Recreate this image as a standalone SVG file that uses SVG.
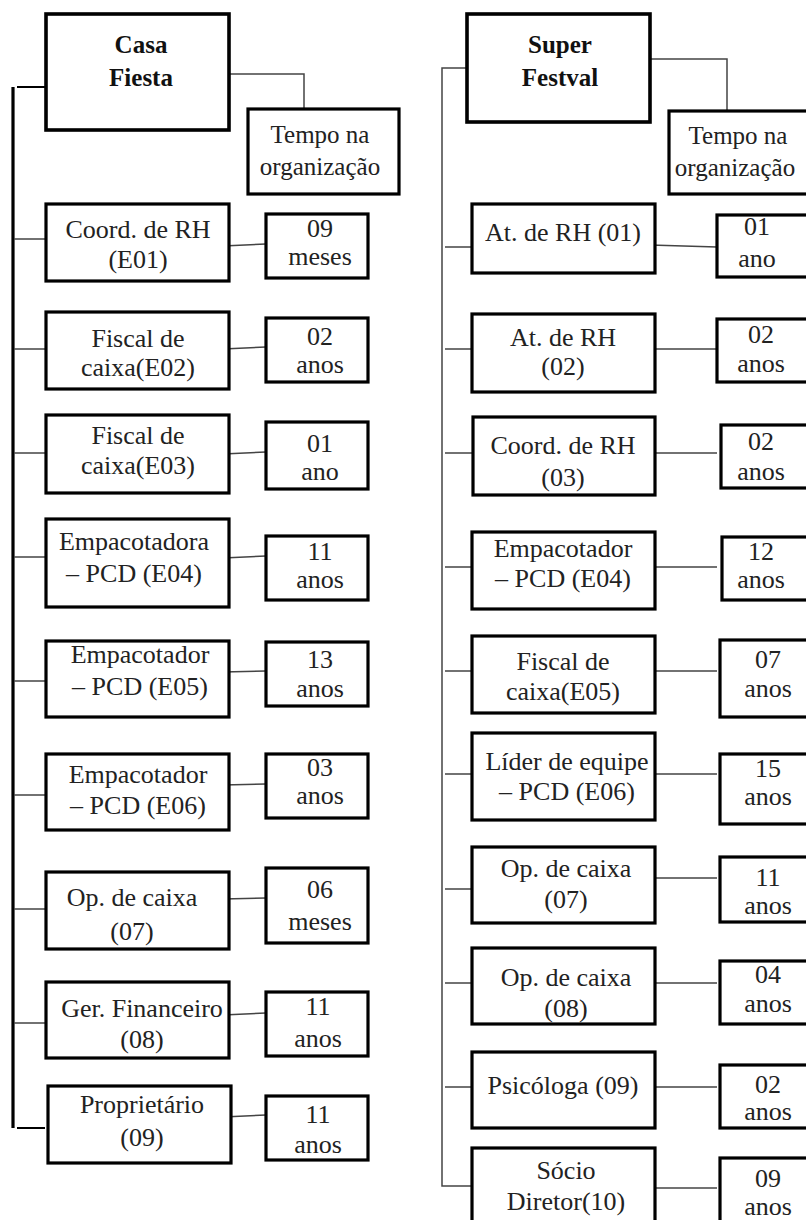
<svg xmlns="http://www.w3.org/2000/svg" width="806" height="1220" viewBox="0 0 806 1220">
<style>
.box{fill:#fff;stroke:#000;stroke-width:3.2}
.t{font-family:"Liberation Serif","Times New Roman",serif;font-size:26px;fill:#222;text-anchor:middle}
.h{font-weight:bold;font-size:25px;fill:#111}
.s{font-size:25px}
.c{stroke:#444;stroke-width:1.5;fill:none}
.bus{stroke:#000;stroke-width:3.2;fill:none}
</style>
<rect width="806" height="1220" fill="#fff"/>
<g id="connectors">
  <!-- left -->
  <path class="bus" d="M13,87 V1128"/>
  <path class="c" d="M17,87 H45" style="stroke:#000;stroke-width:2"/>
  <path class="c" d="M17,1128 H45" style="stroke:#000;stroke-width:2"/>
  <path class="c" d="M229,74 H304 V109"/>
  <path class="c" d="M14,239 H45 M223,246 L266,244"/>
  <path class="c" d="M14,349 H45 M223,349 L266,347"/>
  <path class="c" d="M14,453 H45 M223,454 L266,452"/>
  <path class="c" d="M14,557 H45 M223,558 L266,556"/>
  <path class="c" d="M14,681 H45 M223,672 L266,671"/>
  <path class="c" d="M14,795 H45 M223,785 L266,784"/>
  <path class="c" d="M14,909 H45 M223,899 L266,898"/>
  <path class="c" d="M14,1023 H45 M223,1015 L266,1013"/>
  <path class="c" d="M223,1117 L266,1115"/>
  <!-- right -->
  <path class="c" d="M467,68 H442 V1186 H472"/>
  <path class="c" d="M650,59 H727 V111"/>
  <path class="c" d="M445,247 H472 M650,245 L717,247"/>
  <path class="c" d="M445,349 H472 M650,349 H717"/>
  <path class="c" d="M445,453 H472 M650,453 H717"/>
  <path class="c" d="M445,567 H472 M650,567 H717"/>
  <path class="c" d="M445,671 H472 M650,671 H717"/>
  <path class="c" d="M445,774 H472 M650,774 H717"/>
  <path class="c" d="M445,889 H472 M650,878 H717"/>
  <path class="c" d="M445,983 H472 M650,983 H717"/>
  <path class="c" d="M445,1087 H472 M650,1087 H717"/>
  <path class="c" d="M650,1188 H717"/>
</g>

<!-- Left column -->
<g id="casa-fiesta"><rect class="box" x="46" y="14" width="183" height="116" style="stroke-width:3.6"/>
<text class="t h" x="141" y="53">Casa</text><text class="t h" x="141" y="86">Fiesta</text></g>
<g id="tempo-left"><rect class="box" x="248" y="109" width="151" height="85"/>
<text class="t s" x="320" y="143">Tempo na</text><text class="t s" x="320" y="175">organização</text></g>

<g id="L1"><rect class="box" x="46" y="204" width="183" height="77"/>
<text class="t" x="138" y="238">Coord. de RH</text><text class="t" x="138" y="268">(E01)</text></g>
<g id="L1t"><rect class="box" x="266" y="214" width="102" height="64"/>
<text class="t" x="320" y="237">09</text><text class="t" x="320" y="265">meses</text></g>

<g id="L2"><rect class="box" x="46" y="312" width="183" height="77"/>
<text class="t" x="138" y="347">Fiscal de</text><text class="t" x="138" y="376">caixa(E02)</text></g>
<g id="L2t"><rect class="box" x="266" y="318" width="102" height="64"/>
<text class="t" x="320" y="345">02</text><text class="t" x="320" y="373">anos</text></g>

<g id="L3"><rect class="box" x="46" y="415" width="183" height="78"/>
<text class="t" x="138" y="444">Fiscal de</text><text class="t" x="138" y="474">caixa(E03)</text></g>
<g id="L3t"><rect class="box" x="266" y="422" width="102" height="67"/>
<text class="t" x="320" y="452">01</text><text class="t" x="320" y="480">ano</text></g>

<g id="L4"><rect class="box" x="46" y="519" width="183" height="88"/>
<text class="t" x="134" y="550">Empacotadora</text><text class="t" x="134" y="582">– PCD (E04)</text></g>
<g id="L4t"><rect class="box" x="266" y="536" width="102" height="64"/>
<text class="t" x="320" y="560">11</text><text class="t" x="320" y="588">anos</text></g>

<g id="L5"><rect class="box" x="46" y="641" width="183" height="76"/>
<text class="t" x="140" y="663">Empacotador</text><text class="t" x="140" y="695">– PCD (E05)</text></g>
<g id="L5t"><rect class="box" x="266" y="642" width="102" height="64"/>
<text class="t" x="320" y="668">13</text><text class="t" x="320" y="697">anos</text></g>

<g id="L6"><rect class="box" x="46" y="754" width="183" height="76"/>
<text class="t" x="138" y="783">Empacotador</text><text class="t" x="138" y="814">– PCD (E06)</text></g>
<g id="L6t"><rect class="box" x="266" y="754" width="102" height="64"/>
<text class="t" x="320" y="776">03</text><text class="t" x="320" y="804">anos</text></g>

<g id="L7"><rect class="box" x="46" y="872" width="183" height="77"/>
<text class="t" x="132" y="906">Op. de caixa</text><text class="t" x="132" y="940">(07)</text></g>
<g id="L7t"><rect class="box" x="266" y="868" width="102" height="75"/>
<text class="t" x="320" y="898">06</text><text class="t" x="320" y="930">meses</text></g>

<g id="L8"><rect class="box" x="46" y="982" width="183" height="76"/>
<text class="t" x="142" y="1017">Ger. Financeiro</text><text class="t" x="142" y="1048">(08)</text></g>
<g id="L8t"><rect class="box" x="266" y="992" width="102" height="64"/>
<text class="t" x="318" y="1015">11</text><text class="t" x="318" y="1047">anos</text></g>

<g id="L9"><rect class="box" x="48" y="1086" width="183" height="77"/>
<text class="t" x="142" y="1113">Proprietário</text><text class="t" x="142" y="1146">(09)</text></g>
<g id="L9t"><rect class="box" x="266" y="1096" width="102" height="64"/>
<text class="t" x="318" y="1123">11</text><text class="t" x="318" y="1153">anos</text></g>

<!-- Right column -->
<g id="super-festval"><rect class="box" x="467" y="14" width="183" height="108" style="stroke-width:3.6"/>
<text class="t h" x="560" y="53">Super</text><text class="t h" x="560" y="86">Festval</text></g>
<g id="tempo-right"><rect class="box" x="669" y="111" width="152" height="83"/>
<text class="t s" x="738" y="144">Tempo na</text><text class="t s" x="735" y="176">organização</text></g>

<g id="R1"><rect class="box" x="472" y="204" width="183" height="69"/>
<text class="t" x="563" y="241">At. de RH (01)</text></g>
<g id="R1t"><rect class="box" x="717" y="215" width="102" height="62"/>
<text class="t" x="757" y="235">01</text><text class="t" x="757" y="267">ano</text></g>

<g id="R2"><rect class="box" x="472" y="314" width="183" height="78"/>
<text class="t" x="563" y="346">At. de RH</text><text class="t" x="563" y="375">(02)</text></g>
<g id="R2t"><rect class="box" x="717" y="319" width="102" height="63"/>
<text class="t" x="761" y="343">02</text><text class="t" x="761" y="372">anos</text></g>

<g id="R3"><rect class="box" x="473" y="417" width="182" height="78"/>
<text class="t" x="563" y="454">Coord. de RH</text><text class="t" x="563" y="486">(03)</text></g>
<g id="R3t"><rect class="box" x="721" y="425" width="98" height="63"/>
<text class="t" x="761" y="450">02</text><text class="t" x="761" y="480">anos</text></g>

<g id="R4"><rect class="box" x="472" y="532" width="183" height="77"/>
<text class="t" x="563" y="557">Empacotador</text><text class="t" x="563" y="587">– PCD (E04)</text></g>
<g id="R4t"><rect class="box" x="722" y="537" width="97" height="63"/>
<text class="t" x="761" y="560">12</text><text class="t" x="761" y="588">anos</text></g>

<g id="R5"><rect class="box" x="472" y="636" width="183" height="77"/>
<text class="t" x="563" y="670">Fiscal de</text><text class="t" x="563" y="700">caixa(E05)</text></g>
<g id="R5t"><rect class="box" x="720" y="640" width="99" height="77"/>
<text class="t" x="768" y="668">07</text><text class="t" x="768" y="697">anos</text></g>

<g id="R6"><rect class="box" x="472" y="733" width="183" height="87"/>
<text class="t" x="567" y="770">Líder de equipe</text><text class="t" x="567" y="800">– PCD (E06)</text></g>
<g id="R6t"><rect class="box" x="720" y="754" width="99" height="70"/>
<text class="t" x="768" y="777">15</text><text class="t" x="768" y="805">anos</text></g>

<g id="R7"><rect class="box" x="472" y="847" width="183" height="76"/>
<text class="t" x="566" y="877">Op. de caixa</text><text class="t" x="566" y="908">(07)</text></g>
<g id="R7t"><rect class="box" x="720" y="857" width="99" height="65"/>
<text class="t" x="768" y="886">11</text><text class="t" x="768" y="914">anos</text></g>

<g id="R8"><rect class="box" x="472" y="948" width="183" height="76"/>
<text class="t" x="566" y="986">Op. de caixa</text><text class="t" x="566" y="1017">(08)</text></g>
<g id="R8t"><rect class="box" x="720" y="961" width="99" height="63"/>
<text class="t" x="768" y="983">04</text><text class="t" x="768" y="1012">anos</text></g>

<g id="R9"><rect class="box" x="472" y="1052" width="183" height="76"/>
<text class="t" x="563" y="1094">Psicóloga (09)</text></g>
<g id="R9t"><rect class="box" x="720" y="1065" width="99" height="63"/>
<text class="t" x="768" y="1093">02</text><text class="t" x="768" y="1120">anos</text></g>

<g id="R10"><rect class="box" x="472" y="1148" width="183" height="80"/>
<text class="t" x="566" y="1179">Sócio</text><text class="t" x="566" y="1210">Diretor(10)</text></g>
<g id="R10t"><rect class="box" x="720" y="1158" width="99" height="70"/>
<text class="t" x="768" y="1187">09</text><text class="t" x="768" y="1215">anos</text></g>
</svg>
